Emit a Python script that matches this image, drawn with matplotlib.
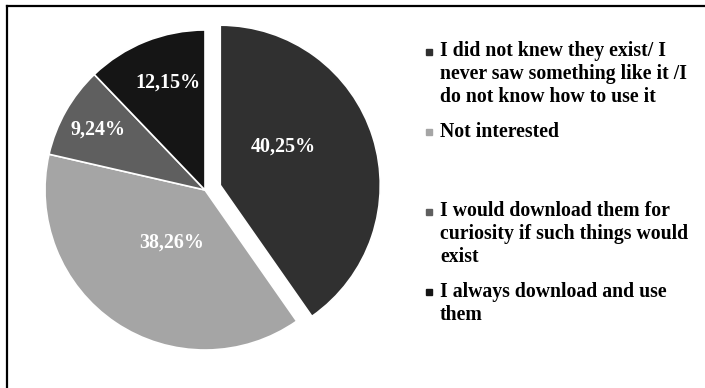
import numpy as np
import matplotlib.pyplot as plt
from matplotlib.lines import Line2D
from matplotlib.patches import Rectangle

plt.rcParams['font.family'] = ['Liberation Serif', 'DejaVu Serif']

# survey answers, share of respondents in percent
answers = [
    'I did not knew they exist/ I\nnever saw something like it /I\ndo not know how to use it',
    'Not interested',
    'I would download them for\ncuriosity if such things would\nexist',
    'I always download and use\nthem',
]
shares = [40.25, 38.26, 9.24, 12.15]
colors = ['#303030', '#a5a5a5', '#5f5f5f', '#151515']
explode = [0.1, 0, 0, 0]

# where each percentage label sits inside its wedge (radius, angle nudge in deg)
label_r = [0.46, 0.39, 0.77, 0.71]
label_nudge = [14, 2, 0, -3]

fig = plt.figure(figsize=(7.05, 3.88), dpi=100)
W, H = 705, 388

ax = fig.add_axes([45 / W, 38 / H, 320 / W, 320 / H])
wedges, _ = ax.pie(shares, colors=colors, explode=explode, startangle=90,
                   counterclock=False,
                   wedgeprops=dict(edgecolor='white', linewidth=1.2))
ax.set_xlim(-1, 1)
ax.set_ylim(-1, 1)
ax.set_aspect('equal')
ax.axis('off')

for w, v, r, nd in zip(wedges, shares, label_r, label_nudge):
    ang = np.deg2rad((w.theta1 + w.theta2) / 2 + nd)
    cx, cy = w.center
    txt = f'{v:.2f}'.replace('.', ',') + '%'
    ax.text(cx + r * np.cos(ang), cy + r * np.sin(ang), txt,
            ha='center', va='center', color='white',
            fontsize=14.4, fontweight='bold')

# legend drawn by hand, entries evenly spaced from the top
line_h = 22.5
for i, (lab, c) in enumerate(zip(answers, colors)):
    base = 57 + 80 * i
    n = lab.count('\n')
    fig.patches.append(Rectangle((426 / W, 1 - (base - 2) / H), 6 / W, 6 / H,
                                 transform=fig.transFigure, color=c))
    # multi-line text is anchored on the baseline of its last line
    fig.text(440 / W, 1 - (base + n * line_h) / H, lab, ha='left',
             va='baseline', fontsize=14.2, fontweight='bold', linespacing=1.19)

# frame lines along the top and left edge
fig.add_artist(Line2D([6.5 / W, 1], [1 - 5.5 / H, 1 - 5.5 / H],
                      color='black', linewidth=1.6))
fig.add_artist(Line2D([6.5 / W, 6.5 / W], [0, 1 - 5.5 / H],
                      color='black', linewidth=1.6))

fig.savefig('out.png', dpi=100)
